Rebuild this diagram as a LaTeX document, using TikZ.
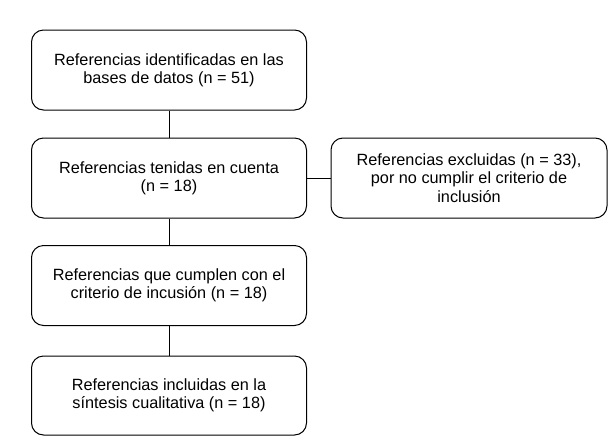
\documentclass[tikz,border=0pt]{standalone}
\usepackage{fontspec}
\setmainfont{Liberation Sans}
\begin{document}
\begin{tikzpicture}[x=0.75pt,y=-0.75pt,
  box/.style={draw=black,line width=0.75pt,rounded corners=9pt,align=center,
    font=\fontsize{12.2pt}{13.8pt}\selectfont,inner sep=0pt},
  link/.style={draw=black,line width=0.75pt}]
\useasboundingbox (0,0) rectangle (614,447);
\fill[white] (0,0) rectangle (614,447);
\node[box,minimum width=206.25pt,minimum height=60pt] (a) at (169,70) {Referencias identificadas en las\\bases de datos (n = 51)};
\node[box,minimum width=206.25pt,minimum height=60pt] (b) at (169,178) {Referencias tenidas en cuenta\\(n = 18)};
\node[box,minimum width=206.25pt,minimum height=60pt] (c) at (169,285.5) {Referencias que cumplen con el\\criterio de incusión (n = 18)};
\node[box,minimum width=206.25pt,minimum height=59.25pt] (d) at (169,395.5) {Referencias incluidas en la\\síntesis cualitativa (n = 18)};
\node[box,minimum width=207pt,minimum height=60pt] (e) at (469,178) {Referencias excluidas (n = 33),\\por no cumplir el criterio de\\inclusión};
\draw[link] (a) -- (b);
\draw[link] (b) -- (c);
\draw[link] (c) -- (d);
\draw[link] (b) -- (e);
\end{tikzpicture}
\end{document}
